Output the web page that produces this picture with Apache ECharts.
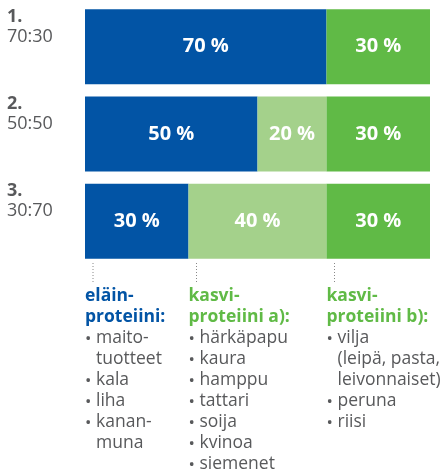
<!DOCTYPE html>
<html>
<head>
<meta charset="utf-8">
<script src="https://cdn.jsdelivr.net/npm/echarts@6/dist/echarts.min.js"></script>
<style>
  html, body { margin: 0; padding: 0; background: #fff; }
  #chart { width: 448px; height: 474px; }
</style>
</head>
<body>
<div id="chart"></div>
<script>
const rankLabels = ['1.', '2.', '3.'];
const ratioLabels = ['70:30', '50:50', '30:70'];
const animal = [70, 50, 30];
const plantA = [0, 20, 40];
const plantB = [30, 30, 30];

const groupTitles = [['eläin-', 'proteiini:'], ['kasvi-', 'proteiini a):'], ['kasvi-', 'proteiini b):']];
const groupItems = [
  [['maito-', 'tuotteet'], ['kala'], ['liha'], ['kanan-', 'muna']],
  [['härkäpapu'], ['kaura'], ['hamppu'], ['tattari'], ['soija'], ['kvinoa'], ['siemenet']],
  [['vilja', '(leipä, pasta,', 'leivonnaiset)'], ['peruna'], ['riisi']],
];
// column starts follow the segments of the third bar
const groupStarts = [0, animal[2], animal[2] + plantA[2]];

const blue = '#0254a5';
const green = '#60ba46';
const lightGreen = '#a4d18b';
const gray = '#58595b';
const titleColors = [blue, green, green];
const font = 'Open Sans';

const chart = echarts.init(document.getElementById('chart'));

const barLabel = {
  show: true,
  color: '#fff',
  fontFamily: font,
  fontWeight: 'bold',
  fontSize: 20,
  formatter: (p) => (p.value ? p.value + ' %' : ''),
};

chart.setOption({
  animation: false,
  grid: { left: 85, right: 18, top: 3, height: 262 },
  xAxis: { type: 'value', min: 0, max: 100, show: false },
  yAxis: {
    type: 'category',
    inverse: true,
    data: ratioLabels,
    axisLine: { show: false },
    axisTick: { show: false },
    axisLabel: {
      align: 'left',
      verticalAlign: 'bottom',
      margin: 78,
      formatter: (v, i) => `{rank|${rankLabels[i]}}\n{ratio|${v}}`,
      rich: {
        rank: { fontFamily: font, fontWeight: 'bold', fontSize: 18, lineHeight: 20, color: gray },
        ratio: { fontFamily: font, fontSize: 18, lineHeight: 20, color: gray },
      },
    },
  },
  series: [
    { type: 'bar', stack: 'p', barWidth: 75, data: animal, itemStyle: { color: blue }, label: barLabel },
    { type: 'bar', stack: 'p', barWidth: 75, data: plantA, itemStyle: { color: lightGreen }, label: barLabel },
    { type: 'bar', stack: 'p', barWidth: 75, data: plantB, itemStyle: { color: green }, label: barLabel },
  ],
});

// lists under the bars
const graphic = [];
const lineH = 21;
const firstY = 296.5;
groupStarts.forEach((start, g) => {
  const x0 = chart.convertToPixel({ xAxisIndex: 0 }, start);
  graphic.push({
    type: 'line',
    shape: { x1: x0 + 8, y1: 263, x2: x0 + 8, y2: 283 },
    style: { stroke: '#888', lineWidth: 1, lineDash: [1, 2] },
  });
  let row = 0;
  groupTitles[g].forEach((t) => {
    graphic.push({
      type: 'text', x: x0, y: firstY + lineH * row++,
      style: { text: t, fill: titleColors[g], font: `bold 17.5px "${font}"`, verticalAlign: 'middle' },
    });
  });
  groupItems[g].forEach((item) => {
    graphic.push({
      type: 'text', x: x0, y: firstY + lineH * row + 1,
      style: { text: '•', fill: gray, font: `17px "${font}"`, verticalAlign: 'middle' },
    });
    item.forEach((t) => {
      graphic.push({
        type: 'text', x: x0 + 11, y: firstY + lineH * row++,
        style: { text: t, fill: gray, font: `17.5px "${font}"`, verticalAlign: 'middle' },
      });
    });
  });
});
chart.setOption({ graphic });
</script>
</body>
</html>
